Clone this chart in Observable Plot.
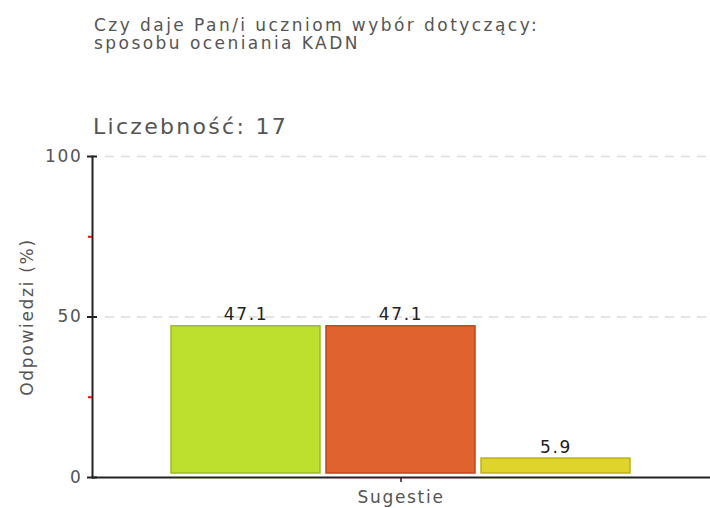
<!DOCTYPE html>
<html>
<head>
<meta charset="utf-8">
<script src="https://cdn.jsdelivr.net/npm/d3@7"></script>
<script src="https://cdn.jsdelivr.net/npm/@observablehq/plot@0.6"></script>
<style>
  html, body { margin: 0; padding: 0; background: #fff; }
  #wrap { position: relative; width: 710px; height: 508px; font-family: "DejaVu Sans", sans-serif; }
  #wrap svg { position: absolute; left: 0; top: 0; }
  .title { position: absolute; left: 94px; top: 16px; font-size: 17px; line-height: 18px; letter-spacing: 2.45px; color: #555; white-space: nowrap; }
  .count { position: absolute; left: 93px; top: 116px; font-size: 22px; line-height: 22px; letter-spacing: 2.3px; color: #555; white-space: nowrap; }
</style>
</head>
<body>
<div id="wrap"></div>
<script>
const titleLines = ["Czy daje Pan/i uczniom wybór dotyczący:", "sposobu oceniania KADN"];
const countLabel = "Liczebność: 17";
const categories = ["Sugestie"];
const series = ["Tak", "Nie", "Nie dotyczy"];
const values = [47.1, 47.1, 5.9];
const yTicks = [0, 50, 100];
const yMinorTicks = [25, 75];
const gridTicks = [50, 100];
const yLabel = "Odpowiedzi (%)";
const fills = ["#bde02f", "#e0622f", "#dfd42a"];
const strokes = ["#9cbc1c", "#c2441b", "#bdb11b"];

const data = series.map((s, i) => ({series: s, value: values[i], category: categories[0]}));

const chart = Plot.plot({
  width: 710,
  height: 508,
  marginTop: 156,
  marginBottom: 31,
  marginLeft: 92,
  marginRight: 0,
  style: {fontFamily: "DejaVu Sans, sans-serif", fontSize: "17px", letterSpacing: "1.7px", background: "transparent", overflow: "visible"},
  x: {domain: series, paddingInner: 0.037, paddingOuter: 0.5095, axis: null},
  y: {domain: [0, 100], axis: null},
  color: {domain: series, range: fills},
  marks: [
    Plot.ruleY(gridTicks, {stroke: "#dcdcdc", strokeWidth: 1.5, strokeDasharray: "9,7", insetLeft: 13, insetRight: 4}),
    Plot.barY(data, {x: "series", y: "value", fill: "series", stroke: (d, i) => strokes[i], strokeWidth: 1.5, insetBottom: 4}),
    Plot.text(data, {x: "series", y: "value", text: d => d.value.toFixed(1), lineAnchor: "bottom", dy: -6, fill: "#222", fontSize: 17}),
    Plot.ruleY([0], {stroke: "#222", strokeWidth: 2}),
    Plot.frame({anchor: "left", stroke: "#222", strokeWidth: 2}),
    Plot.axisY({ticks: yTicks, tickSize: 10, dx: 5, tickPadding: 5, fill: "#555", stroke: "#222", strokeWidth: 2, label: null, fontSize: 17}),
    Plot.axisY({ticks: yMinorTicks, tickSize: 4, tickFormat: () => "", stroke: "#ff0000", strokeWidth: 2, fill: "#555", label: yLabel, labelAnchor: "center", labelArrow: "none", labelOffset: 72, fontSize: 17}),
    Plot.axisX({ticks: [series[1]], tickSize: 5, tickPadding: 8, tickFormat: () => categories[0], label: null, fill: "#555", stroke: "#222", strokeWidth: 1.5, fontSize: 17})
  ]
});

const wrap = document.getElementById("wrap");
wrap.appendChild(chart);
const t = document.createElement("div");
t.className = "title";
t.innerHTML = titleLines.map(l => l.replace(/&/g, "&amp;").replace(/</g, "&lt;")).join("<br>");
wrap.appendChild(t);
const c = document.createElement("div");
c.className = "count";
c.textContent = countLabel;
wrap.appendChild(c);
</script>
</body>
</html>
